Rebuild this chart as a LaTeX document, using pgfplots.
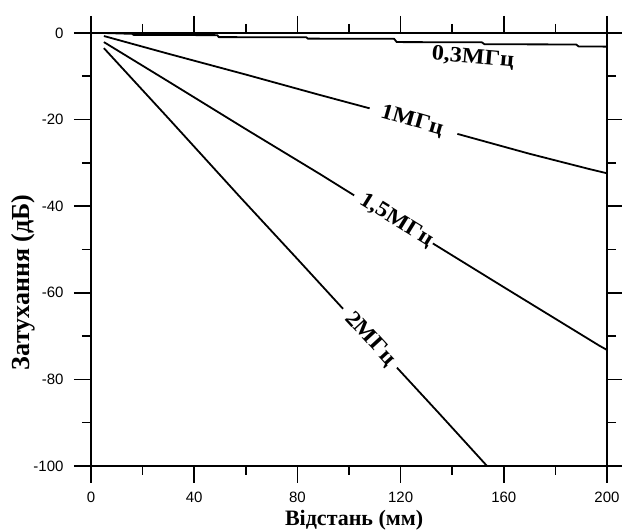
\documentclass[border=0pt]{standalone}
\usepackage{pgfplots}
\pgfplotsset{compat=1.18}
\usepackage{fontspec}
\setmainfont{Liberation Serif}
\newfontfamily\sans{Liberation Sans}
\newfontfamily\lab[FakeStretch=1.1]{Liberation Serif Bold}
\begin{document}
\begin{tikzpicture}
\begin{axis}[
  scale only axis,
  width=516pt, height=433pt,
  xmin=0, xmax=200, ymin=-100, ymax=0,
  xtick={0,40,80,120,160,200},
  ytick={-100,-80,-60,-40,-20,0},
  minor x tick num=1, minor y tick num=1,
  tick align=outside, tick pos=both,
  xticklabel pos=bottom, yticklabel pos=left,
  major tick length=17pt, minor tick length=9pt,
  tick style={black, line width=1.6pt},
  axis line style={line width=1.8pt},
  /pgf/number format/assume math mode=true,
  ticklabel style={font=\sans\fontsize{15}{15}\selectfont},
  xticklabel style={yshift=-5pt},
  yticklabel style={xshift=-7pt},
  xlabel={\textbf{Відстань (мм)}},
  ylabel={\textbf{Затухання (дБ)}},
  xlabel style={font=\fontsize{22}{23}\selectfont, at={(axis description cs:0.51,-0.1363)}, anchor=base},
  ylabel style={font=\fontsize{26}{27}\selectfont, at={(axis description cs:-0.120,0.424)}, anchor=base},
  clip=false,
]
% 0,3 MHz
\addplot[black, line width=1.8pt, line join=round] coordinates {(5,0) (16,-0.2) (16.5,-0.45) (49,-0.5) (49.5,-0.95) (83.5,-1.0) (84,-1.3) (117.5,-1.35) (118.5,-2.1) (151.5,-2.15) (152.5,-2.6) (188,-2.65) (189,-3.1) (200,-3.15)};
% 1 MHz
\addplot[black, line width=1.8pt, line join=round] coordinates {(5,-0.7) (30,-4.8) (60,-9.6) (88,-14.2) (108,-17.4)};
\addplot[black, line width=1.8pt, line join=round] coordinates {(142,-23.3) (170,-27.9) (193,-31.4) (200,-32.4)};
% 1,5 MHz
\addplot[black, line width=1.8pt, line join=round] coordinates {(5,-2.1) (30,-11.2) (60,-22.2) (88.8,-32.6) (102,-37.5)};
\addplot[black, line width=1.8pt, line join=round] coordinates {(132.5,-48.6) (160,-58.7) (197,-72.2) (200,-73.2)};
% 2 MHz
\addplot[black, line width=1.8pt, line join=round] coordinates {(5,-3.5) (30,-19.7) (57.8,-37.9) (80,-52.2) (97.7,-63.7)};
\addplot[black, line width=1.8pt, line join=round] coordinates {(118.6,-77.3) (135,-87.9) (153.5,-100)};
\node[rotate=-5, font=\lab\fontsize{22}{22}\selectfont] at (axis cs:148,-5.8) {0,3МГц};
\node[rotate=-16, font=\lab\fontsize{22}{22}\selectfont] at (axis cs:124.4,-20.3) {1МГц};
\node[rotate=-31.7, font=\lab\fontsize{22}{22}\selectfont] at (axis cs:118.3,-43.3) {1,5МГц};
\node[rotate=-47.5, font=\lab\fontsize{22}{22}\selectfont] at (axis cs:108.2,-70.7) {2МГц};
\end{axis}
\pgfresetboundingbox
\path ([shift={(-91pt,-65pt)}]current axis.south west) rectangle ([shift={(15pt,33pt)}]current axis.north east);
\end{tikzpicture}
\end{document}
